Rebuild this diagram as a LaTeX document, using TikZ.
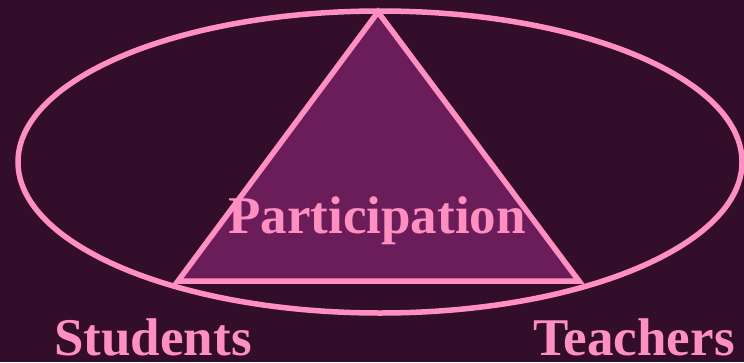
\documentclass[tikz,border=0pt]{standalone}
\usepackage{fontspec}
\setmainfont{Liberation Serif}
\usepackage{tikz}
\usepackage{xcolor}

\definecolor{bgplum}{HTML}{330E2A}
\definecolor{pinkline}{HTML}{FF8FC0}
\definecolor{midplum}{HTML}{6B1D5A}

\tikzset{
  bigword/.style={text=pinkline, font=\bfseries\fontsize{53}{60}\selectfont, anchor=base, inner sep=0pt},
  pinkrim/.style={draw=pinkline, line width=5.5pt}
}

\begin{document}
\begin{tikzpicture}[x=1pt, y={(0,-1pt)}]

\fill[bgplum] (0,0) rectangle (744,362);
\useasboundingbox (0,0) rectangle (744,362);

% outer ring
\draw[pinkrim] (380,162) ellipse [x radius=362, y radius=151];

% the triangle
\coordinate (top) at (378,12);
\coordinate (left) at (178,281);
\coordinate (right) at (579,281);
\filldraw[pinkrim, fill=midplum, line join=miter] (top) -- (left) -- (right) -- cycle;

\node[bigword] (part) at (377,233) {Participation};
\node[bigword] (stud) at (153,355) {Students};
\node[bigword] (teach) at (634,355) {Teachers};

\end{tikzpicture}
\end{document}
